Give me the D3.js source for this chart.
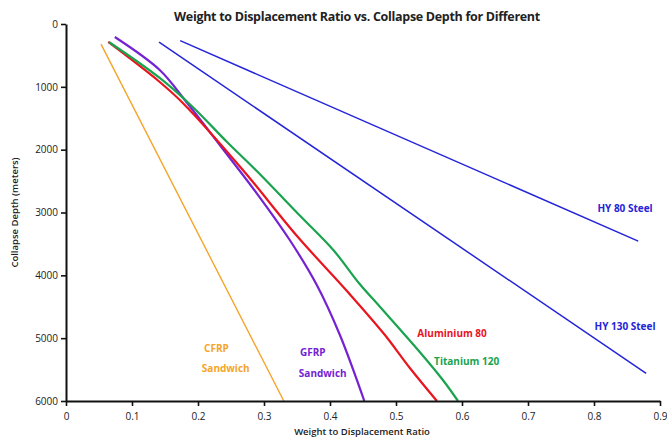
<!DOCTYPE html>
<html>
<head>
<meta charset="utf-8">
<script src="https://cdn.jsdelivr.net/npm/d3@7"></script>
<style>
  body { margin: 0; background: #fff; }
  svg { display: block; font-family: "Open Sans", "Noto Sans", sans-serif; }
</style>
</head>
<body>
<svg id="chart" viewBox="0 0 667 439" width="667" height="439"></svg>
<script>
// tick values
const xTicks = [0, 0.1, 0.2, 0.3, 0.4, 0.5, 0.6, 0.7, 0.8, 0.9];
const yTicks = [0, 1000, 2000, 3000, 4000, 5000, 6000];

// series: [weight to displacement ratio, collapse depth]
const cfrp = [[0.053, 320], [0.33, 6000]];
const gfrp = [[0.074, 207], [0.142, 732], [0.180, 1210], [0.233, 1926], [0.291, 2722],
  [0.339, 3438], [0.380, 4154], [0.415, 4950], [0.452, 6000]];
const aluminium = [[0.064, 286], [0.142, 923], [0.177, 1257], [0.268, 2324], [0.350, 3374],
  [0.427, 4265], [0.482, 4934], [0.521, 5475], [0.562, 6000]];
const titanium = [[0.065, 286], [0.142, 859], [0.192, 1321], [0.244, 1878], [0.289, 2340],
  [0.355, 3056], [0.405, 3597], [0.445, 4138], [0.476, 4504], [0.536, 5220],
  [0.571, 5666], [0.594, 6000]];
const hy80 = [[0.173, 265], [0.867, 3455]];
const hy130 = [[0.141, 290], [0.879, 5560]];

const series = [
  { name: "CFRP", data: cfrp, color: "#F5A42A", width: 1.4 },
  { name: "GFRP", data: gfrp, color: "#7422D2", width: 2.2 },
  { name: "Aluminium 80", data: aluminium, color: "#E8141E", width: 2.2 },
  { name: "Titanium 120", data: titanium, color: "#19A34E", width: 2.2 },
  { name: "HY 80 Steel", data: hy80, color: "#2424D8", width: 1.5 },
  { name: "HY 130 Steel", data: hy130, color: "#2424D8", width: 1.5 }
];

// text labels placed next to the lines, in data units
const labels = [
  { text: "CFRP", at: [0.228, 5170], color: "#F5A42A" },
  { text: "Sandwich", at: [0.242, 5490], color: "#F5A42A" },
  { text: "GFRP", at: [0.374, 5240], color: "#7422D2" },
  { text: "Sandwich", at: [0.389, 5580], color: "#7422D2" },
  { text: "Aluminium 80", at: [0.585, 4940], color: "#E8141E" },
  { text: "Titanium 120", at: [0.607, 5390], color: "#19A34E" },
  { text: "HY 80 Steel", at: [0.847, 2950], color: "#2424D8" },
  { text: "HY 130 Steel", at: [0.847, 4830], color: "#2424D8" }
];

const svg = d3.select("#chart");
const margin = { left: 66, right: 7, top: 24, bottom: 38 };
const width = 667, height = 439;

const x = d3.scaleLinear().domain([0, 0.9]).range([margin.left, width - margin.right]);
const y = d3.scaleLinear().domain([0, 6000]).range([margin.top, height - margin.bottom]);

// title
svg.append("text")
  .attr("x", 357).attr("y", 21)
  .attr("text-anchor", "middle")
  .attr("font-size", 12.5).attr("font-weight", "bold")
  .attr("letter-spacing", -0.3)
  .attr("fill", "#222")
  .text("Weight to Displacement Ratio vs. Collapse Depth for Different");

// lines
const line = d3.line().x(d => x(d[0])).y(d => y(d[1])).curve(d3.curveCatmullRom.alpha(0.5));
svg.append("g").selectAll("path")
  .data(series)
  .enter()
  .append("path")
  .attr("d", d => line(d.data))
  .attr("fill", "none")
  .attr("stroke", d => d.color)
  .attr("stroke-width", d => d.width);

// axes
const yAxis = svg.append("g")
  .attr("transform", `translate(${margin.left},0)`)
  .call(d3.axisLeft(y).tickValues(yTicks).tickSize(5).tickSizeOuter(0).tickFormat(d3.format("d")));
const xAxis = svg.append("g")
  .attr("transform", `translate(0,${height - margin.bottom})`)
  .call(d3.axisBottom(x).tickValues(xTicks).tickSize(5).tickSizeOuter(0).tickFormat(d => d === 0 ? "0" : d3.format(".1f")(d)));

[xAxis, yAxis].forEach(a => {
  a.select(".domain").attr("stroke", "#111").attr("stroke-width", 2);
  a.selectAll(".tick line").attr("stroke", "#111").attr("stroke-width", 1.6);
  a.selectAll(".tick text").attr("font-size", 10).attr("fill", "#222")
    .attr("font-family", "'Open Sans', sans-serif");
});
xAxis.selectAll(".tick text").attr("dy", "1.05em");

// axis titles
svg.append("text")
  .attr("x", 362).attr("y", 435)
  .attr("text-anchor", "middle")
  .attr("font-size", 9.5).attr("font-weight", 600).attr("fill", "#222")
  .text("Weight to Displacement Ratio");
svg.append("text")
  .attr("transform", `translate(18,${y(3000)}) rotate(-90)`)
  .attr("text-anchor", "middle")
  .attr("font-size", 9.5).attr("font-weight", 600).attr("fill", "#222")
  .text("Collapse Depth (meters)");

// series labels
svg.append("g").selectAll("text")
  .data(labels)
  .enter()
  .append("text")
  .attr("x", d => x(d.at[0]))
  .attr("y", d => y(d.at[1]))
  .attr("text-anchor", "middle")
  .attr("dominant-baseline", "middle")
  .attr("font-size", 10).attr("font-weight", "bold")
  .attr("fill", d => d.color)
  .text(d => d.text);
</script>
</body>
</html>
